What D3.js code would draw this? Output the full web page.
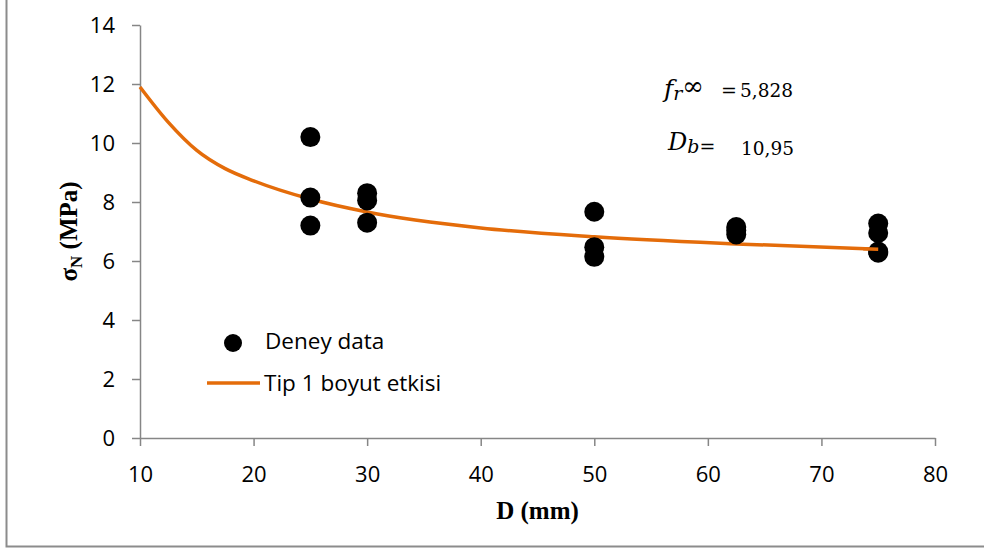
<!DOCTYPE html>
<html>
<head>
<meta charset="utf-8">
<script src="https://cdn.jsdelivr.net/npm/d3@7"></script>
<style>
  body { margin: 0; background: #fff; }
  .tick text { font-family: "Open Sans", sans-serif; font-size: 22px; fill: #000; }
  .axis-title { font-family: "Liberation Serif", "Times New Roman", serif; font-weight: bold; font-size: 25px; }
  .legend text { font-family: "Open Sans", sans-serif; font-size: 22.5px; }
  .note { font-family: "DejaVu Serif", "Liberation Serif", serif; }
</style>
</head>
<body>
<svg id="chart" width="984" height="548"></svg>
<script>
// measured points (D in mm, sigma N in MPa)
const pointD = [25, 25, 25, 30, 30, 30, 50, 50, 50, 62.5, 62.5, 62.5, 75, 75, 75, 75];
const pointS = [10.2, 8.15, 7.2, 8.3, 8.05, 7.3, 7.67, 6.47, 6.14, 7.15, 7.03, 6.9, 7.27, 6.95, 6.32, 6.28];

// fitted type 1 size effect curve
const curveD = [10, 12.5, 15, 17.5, 20, 25, 30, 40, 50, 62.5, 75];
const curveS = [11.9, 10.7, 9.75, 9.13, 8.72, 8.1, 7.66, 7.12, 6.82, 6.58, 6.4];

const xTicks = [10, 20, 30, 40, 50, 60, 70, 80];
const yTicks = [0, 2, 4, 6, 8, 10, 12, 14];

const margin = { left: 140, right: 49, top: 25, bottom: 110 };
const width = 984, height = 548;
const orange = '#E46C0A';

const svg = d3.select('#chart');

// outer frame (only left and bottom edges are visible)
svg.append('path')
  .attr('d', 'M6.5,0 V546.5 H984')
  .attr('fill', 'none')
  .attr('stroke', '#8c8c8c')
  .attr('stroke-width', 2);

const xScale = d3.scaleLinear().domain([10, 80]).range([margin.left, width - margin.right]);
const yScale = d3.scaleLinear().domain([0, 14]).range([height - margin.bottom, margin.top]);

const xAxis = svg.append('g')
  .attr('transform', `translate(0,${yScale(0)})`)
  .call(d3.axisBottom(xScale).tickValues(xTicks).tickSize(8).tickPadding(20).tickSizeOuter(0));
const yAxis = svg.append('g')
  .attr('transform', `translate(${xScale(10)},0)`)
  .call(d3.axisLeft(yScale).tickValues(yTicks).tickSize(8).tickPadding(17).tickSizeOuter(0));

[xAxis, yAxis].forEach(a => {
  a.select('.domain').attr('stroke', '#868686').attr('stroke-width', 1.5);
  a.selectAll('.tick line').attr('stroke', '#868686').attr('stroke-width', 1.5);
});

// curve
const line = d3.line()
  .x((d, i) => xScale(curveD[i]))
  .y((d, i) => yScale(curveS[i]))
  .curve(d3.curveMonotoneX);

svg.append('path')
  .datum(curveS)
  .attr('d', line)
  .attr('fill', 'none')
  .attr('stroke', orange)
  .attr('stroke-width', 3.5);

// points
svg.append('g')
  .selectAll('circle')
  .data(pointD)
  .join('circle')
  .attr('cx', d => xScale(d))
  .attr('cy', (d, i) => yScale(pointS[i]))
  .attr('r', 10)
  .attr('fill', '#000');

// the end of the curve shows over the last marker, as in the original
const tail = svg.append('path')
  .datum(curveS.slice(-2))
  .attr('d', d3.line()
    .x((d, i) => xScale(curveD[curveD.length - 2 + i]))
    .y(d => yScale(d)))
  .attr('fill', 'none')
  .attr('stroke', orange)
  .attr('stroke-width', 3.5);
const L = tail.node().getTotalLength();
tail.attr('stroke-dasharray', `0,${L - 15},15`);

// axis titles
svg.append('text')
  .attr('class', 'axis-title')
  .attr('x', (xScale(10) + xScale(80)) / 2)
  .attr('y', 519)
  .attr('text-anchor', 'middle')
  .text('D (mm)');

const yt = svg.append('text')
  .attr('class', 'axis-title')
  .attr('text-anchor', 'middle')
  .attr('transform', `translate(77,${(yScale(0) + yScale(14)) / 2}) rotate(-90)`);
yt.append('tspan').text('σ');
yt.append('tspan').attr('font-size', 17).attr('dy', 5).text('N');
yt.append('tspan').attr('dy', -5).text(' (MPa)');

// legend
const legend = svg.append('g').attr('class', 'legend');
legend.append('circle').attr('cx', 233).attr('cy', 343).attr('r', 9).attr('fill', '#000');
legend.append('text').attr('x', 265).attr('y', 349).text('Deney data');
legend.append('line').attr('x1', 207).attr('x2', 260).attr('y1', 383).attr('y2', 383)
  .attr('stroke', orange).attr('stroke-width', 3.5);
legend.append('text').attr('x', 264).attr('y', 391).text('Tip 1 boyut etkisi');

// parameter annotations
const n1 = svg.append('text').attr('class', 'note').attr('x', 664).attr('y', 97);
n1.append('tspan').attr('font-style', 'italic').attr('font-size', 25).text('f');
n1.append('tspan').attr('font-style', 'italic').attr('font-size', 19).attr('dy', 3).text('r');
n1.append('tspan').attr('font-size', 26).attr('dy', -5).text('∞');
n1.append('tspan').attr('font-size', 19).attr('x', 721).attr('dy', 2).text('=');
n1.append('tspan').attr('font-size', 18.5).attr('x', 740).text('5,828');

const n2 = svg.append('text').attr('class', 'note').attr('x', 668).attr('y', 150);
n2.append('tspan').attr('font-style', 'italic').attr('font-size', 24).text('D');
n2.append('tspan').attr('font-style', 'italic').attr('font-size', 19).attr('dy', 3).text('b=');
n2.append('tspan').attr('font-size', 18.5).attr('x', 741).attr('dy', 2).text('10,95');
</script>
</body>
</html>
